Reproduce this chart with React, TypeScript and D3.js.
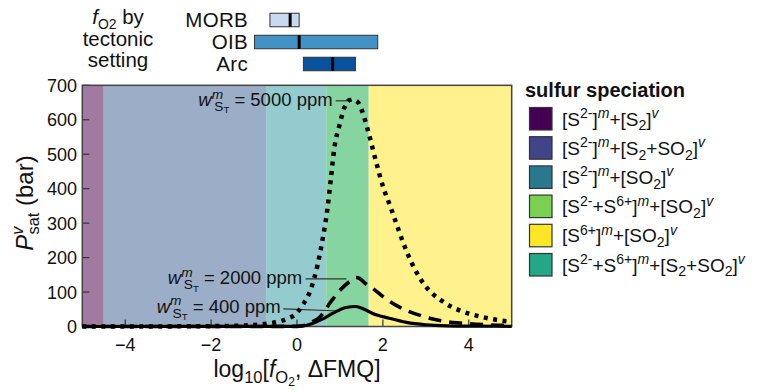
import React from "react";
import * as d3 from "d3";

// ---------- data ----------
const bandEdges = [-5, -4.5, -0.72, 0.68, 1.67, 5];
const bandColors = ["#a07aa1", "#9badc7", "#94cbcf", "#86d4a0", "#fff18c"];

const legendColors = ["#440154", "#414487", "#2a788e", "#7ad151", "#fde725", "#22a884"];

const boxNames = ["MORB", "OIB", "Arc"];
const boxLo = [-0.63, -0.99, 0.15];
const boxMed = [-0.16, 0.05, 0.83];
const boxHi = [0.05, 1.88, 1.36];
const boxColors = ["#c6dbef", "#4292c6", "#08519c"];

const xTicks = [-4, -2, 0, 2, 4];
const yTicks = [0, 100, 200, 300, 400, 500, 600, 700];

const series5000: [number, number][] = [
  [-5, 0], [-3, 0.3], [-2, 1], [-1.2, 3], [-0.7, 8], [-0.4, 15], [-0.2, 24], [-0.06, 33],
  [0.13, 62], [0.33, 111], [0.48, 179], [0.6, 256], [0.71, 343], [0.79, 430], [0.87, 518],
  [0.99, 585], [1.1, 634], [1.22, 657], [1.3, 658], [1.41, 652], [1.57, 605], [1.68, 556],
  [1.84, 479], [1.99, 411], [2.19, 343], [2.38, 275], [2.58, 210], [2.75, 165], [3.0, 116],
  [3.4, 72], [3.8, 46], [4.3, 28], [4.9, 15], [5, 14],
];
const series2000: [number, number][] = [
  [-5, 0], [-1, 0], [0, 0.5], [0.2, 4], [0.36, 14], [0.52, 26], [0.79, 72], [1.0, 105],
  [1.22, 130], [1.37, 142], [1.45, 140], [1.6, 124], [1.76, 111], [2.0, 87], [2.3, 62],
  [2.6, 44], [2.9, 31], [3.3, 18], [3.8, 10], [4.4, 5], [5, 3],
];
const series400: [number, number][] = [
  [-5, 0], [0, 0.5], [0.2, 3], [0.36, 9], [0.6, 22], [0.83, 38], [1.14, 55], [1.37, 58],
  [1.55, 51], [1.76, 38], [2.15, 24], [2.55, 12], [3.0, 5], [3.5, 2], [4.2, 1], [5, 0.5],
];

const annotLabels = ["5000", "2000", "400"];
// text right end (data x / value) and leader line start / target (data coords)
const annotTextX = [0.83, 0.12, -0.38];
const annotTextV = [640, 123, 40];
const annotTarget: [number, number][] = [[1.28, 655], [1.15, 138], [1.0, 45]];
const annotStart: [number, number][] = [[0.9, 655], [0.2, 138], [-0.32, 51]];

type Seg = { t: string; k?: "sup" | "sub" | "subsub"; it?: boolean; dx?: number };

const legendItems: Seg[][] = [
  [{ t: "[S" }, { t: "2-", k: "sup" }, { t: "]" }, { t: "m", k: "sup", it: true }, { t: "+[S" }, { t: "2", k: "sub" }, { t: "]" }, { t: "v", k: "sup", it: true }],
  [{ t: "[S" }, { t: "2-", k: "sup" }, { t: "]" }, { t: "m", k: "sup", it: true }, { t: "+[S" }, { t: "2", k: "sub" }, { t: "+SO" }, { t: "2", k: "sub" }, { t: "]" }, { t: "v", k: "sup", it: true }],
  [{ t: "[S" }, { t: "2-", k: "sup" }, { t: "]" }, { t: "m", k: "sup", it: true }, { t: "+[SO" }, { t: "2", k: "sub" }, { t: "]" }, { t: "v", k: "sup", it: true }],
  [{ t: "[S" }, { t: "2-", k: "sup" }, { t: "+S" }, { t: "6+", k: "sup" }, { t: "]" }, { t: "m", k: "sup", it: true }, { t: "+[SO" }, { t: "2", k: "sub" }, { t: "]" }, { t: "v", k: "sup", it: true }],
  [{ t: "[S" }, { t: "6+", k: "sup" }, { t: "]" }, { t: "m", k: "sup", it: true }, { t: "+[SO" }, { t: "2", k: "sub" }, { t: "]" }, { t: "v", k: "sup", it: true }],
  [{ t: "[S" }, { t: "2-", k: "sup" }, { t: "+S" }, { t: "6+", k: "sup" }, { t: "]" }, { t: "m", k: "sup", it: true }, { t: "+[S" }, { t: "2", k: "sub" }, { t: "+SO" }, { t: "2", k: "sub" }, { t: "]" }, { t: "v", k: "sup", it: true }],
];

// ---------- layout ----------
const W = 757, H = 392;
const FONT = "'Liberation Sans', Arial, Helvetica, sans-serif";
const x = d3.scaleLinear().domain([-5, 5]).range([82.3, 511.7]);
const y = d3.scaleLinear().domain([0, 700]).range([326.5, 85.3]);

function Rich({ segs, fs, x: tx, y: ty, anchor = "start", transform, ratio = 0.72, ls }: { segs: Seg[]; fs: number; x: number; y: number; anchor?: string; transform?: string; ratio?: number; ls?: number }) {
  let cur = 0;
  return (
    <text x={tx} y={ty} fontSize={fs} textAnchor={anchor as any} transform={transform} letterSpacing={ls} style={{ whiteSpace: "pre" }} fill="#111">
      {segs.map((s, i) => {
        const off = s.k === "sup" ? -0.4 * fs : s.k === "sub" ? 0.26 * fs : s.k === "subsub" ? 0.4 * fs : 0;
        const dy = off - cur;
        cur = off;
        const size = s.k === "sup" || s.k === "sub" ? ratio * fs : s.k === "subsub" ? 0.52 * fs : fs;
        return (
          <tspan key={i} dy={dy} dx={s.dx} fontSize={size} fontStyle={s.it ? "italic" : undefined}>
            {s.t}
          </tspan>
        );
      })}
    </text>
  );
}

export default function App() {
  const line = d3.line<[number, number]>().x((d) => x(d[0])).y((d) => y(d[1])).curve(d3.curveMonotoneX);
  const top = y(700), bot = y(0);
  const boxH = 13.5;
  const boxCY = [20, 42, 64];

  return (
    <svg width={W} height={H} style={{ position: "absolute", left: 0, top: 0, fontFamily: FONT }}>
      <rect width={W} height={H} fill="#fff" />
      {/* top box plots */}
      <g>
        <Rich segs={[{ t: "f", it: true }, { t: "O2", k: "sub" }, { t: " by" }]} fs={20.5} ratio={0.68} x={118} y={24} anchor="middle" />
        <Rich segs={[{ t: "tectonic" }]} fs={20.5} x={118} y={46} anchor="middle" />
        <Rich segs={[{ t: "setting" }]} fs={20.5} x={118} y={67} anchor="middle" />
        {boxNames.map((n, i) => (
          <g key={n}>
            <text x={248} y={boxCY[i] + 7} fontSize={20.5} textAnchor="end" fill="#111" letterSpacing={0.3}>{n}</text>
            <rect x={x(boxLo[i])} y={boxCY[i] - boxH / 2} width={x(boxHi[i]) - x(boxLo[i])} height={boxH} fill={boxColors[i]} stroke="#333" strokeWidth={1} />
            <line x1={x(boxMed[i])} x2={x(boxMed[i])} y1={boxCY[i] - boxH / 2} y2={boxCY[i] + boxH / 2} stroke="#000" strokeWidth={3} />
          </g>
        ))}
      </g>

      {/* bands */}
      {bandColors.map((c, i) => (
        <rect key={i} x={x(bandEdges[i])} y={top} width={x(bandEdges[i + 1]) - x(bandEdges[i])} height={bot - top} fill={c} />
      ))}

      {/* ticks */}
      {xTicks.map((t) => (
        <g key={"x" + t}>
          <line x1={x(t)} x2={x(t)} y1={bot} y2={bot - 7} stroke="#333" strokeWidth={1.2} />
          <text x={x(t)} y={351} fontSize={18} textAnchor="middle" fill="#111">{t < 0 ? "\u2212" + Math.abs(t) : String(t)}</text>
        </g>
      ))}
      {yTicks.map((t) => (
        <g key={"y" + t}>
          <line x1={x(-5)} x2={x(-5) + 7} y1={y(t)} y2={y(t)} stroke="#333" strokeWidth={1.2} />
          <text x={77} y={y(t)} dy="0.36em" fontSize={18} textAnchor="end" fill="#111">{t}</text>
        </g>
      ))}

      {/* frame */}
      <rect x={x(-5)} y={top} width={x(5) - x(-5)} height={bot - top} fill="none" stroke="#444" strokeWidth={1.5} />

      {/* annotation leader lines */}
      {annotLabels.map((l, i) => (
        <line key={"al" + l} x1={x(annotStart[i][0])} y1={y(annotStart[i][1])} x2={x(annotTarget[i][0])} y2={y(annotTarget[i][1])} stroke="#333" strokeWidth={1.2} />
      ))}

      {/* curves */}
      <path d={line(series400) || ""} fill="none" stroke="#000" strokeWidth={3.2} />
      <path d={line(series2000) || ""} fill="none" stroke="#000" strokeWidth={3.6} strokeDasharray="13,8" />
      <path d={line(series5000) || ""} fill="none" stroke="#000" strokeWidth={4.5} strokeDasharray="4,5.5" />

      {/* annotation text */}
      {annotLabels.map((l, i) => (
        <Rich
          key={"at" + l}
          segs={[{ t: "w", it: true }, { t: "m", k: "sup", it: true }, { t: " " }, { t: "S", k: "sub", dx: -14 }, { t: "T", k: "subsub" }, { t: " = " + l + " ppm" }]}
          fs={18.5}
          ratio={0.74}
          x={x(annotTextX[i])}
          y={y(annotTextV[i])}
          anchor="end"
        />
      ))}

      {/* axis labels */}
      <Rich
        segs={[{ t: "log" }, { t: "10", k: "sub" }, { t: "[" }, { t: "f", it: true }, { t: "O", k: "sub" }, { t: "2", k: "subsub" }, { t: ", \u0394FMQ]" }]}
        fs={23}
        ratio={0.72}
        x={297}
        y={377}
        anchor="middle"
      />
      <Rich
        segs={[{ t: "P", it: true }, { t: "v", k: "sup", it: true }, { t: "sat", k: "sub", dx: -8 }, { t: " (bar)" }]}
        fs={24}
        ratio={0.68}
        x={0}
        y={0}
        anchor="middle"
        transform={`translate(33,203) rotate(-90)`}
      />

      {/* legend */}
      <text x={525} y={97} fontSize={20} fontWeight="bold" fill="#111">sulfur speciation</text>
      {legendItems.map((segs, i) => (
        <g key={"lg" + i}>
          <rect x={529.5} y={107.5 + 29.2 * i} width={22.5} height={22.5} fill={legendColors[i]} stroke="#333" strokeWidth={1.2} />
          <Rich segs={segs} fs={19} ratio={0.74} x={562} y={125.5 + 29.2 * i} />
        </g>
      ))}
    </svg>
  );
}
